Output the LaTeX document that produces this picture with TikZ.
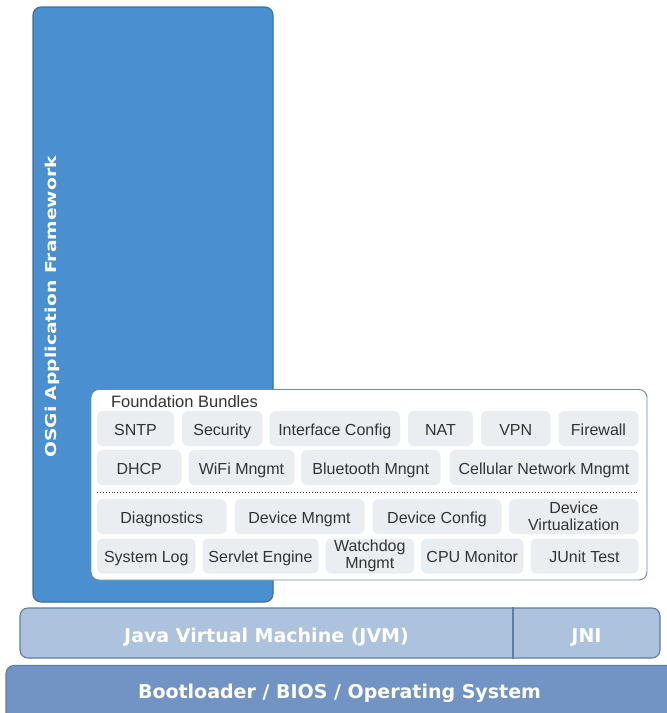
\documentclass[tikz,border=0pt]{standalone}
\usepackage{fontspec}
\usepackage{graphicx}
\setmainfont{Liberation Sans}
\newfontfamily\verdana{DejaVu Sans}

\definecolor{osgiblue}{HTML}{4A8FD0}
\definecolor{osgiedge}{HTML}{3D6F9F}
\definecolor{jvmfill}{HTML}{ADC2DC}
\definecolor{jvmedge}{HTML}{5F7D9E}
\definecolor{bootfill}{HTML}{7294C4}
\definecolor{bootedge}{HTML}{5B7CAB}
\definecolor{fbedge}{HTML}{6F8AA6}
\definecolor{bundlegray}{HTML}{EBEEF1}
\definecolor{labelgray}{HTML}{333333}

\tikzset{
  bundletwo/.style={fill=bundlegray, rounded corners=6pt, minimum height=35pt,
    inner sep=0pt, align=center, text=labelgray,
    font=\fontsize{16}{16.5}\selectfont},
  bundle/.style={bundletwo, text height=13pt, text depth=0pt},
  layerbox/.style={draw, line width=1.1pt, rounded corners=8pt, inner sep=0pt},
  layertext/.style={text=white, anchor=base,
    font=\verdana\bfseries\fontsize{19}{21}\selectfont}
}

\begin{document}
\begin{tikzpicture}[x=1pt, y=-1pt]
\useasboundingbox (0,0) rectangle (667,713);

\node[layerbox, fill=osgiblue, draw=osgiedge, minimum width=240pt, minimum height=595pt] (osgi) at (153,304.5) {};
\node[rotate=90, anchor=base, text=white] (osgititle) at (56.5,307)
  {\scalebox{1.25}[1]{\verdana\bfseries\fontsize{15}{16}\selectfont OSGi Application Framework}};

\node[layerbox, fill=white, draw=fbedge, line width=0.9pt, minimum width=556pt, minimum height=190.5pt] (found) at (369,484.75) {};
\node[anchor=base west, text=labelgray, font=\fontsize{16.5}{18}\selectfont] (foundtitle) at (107.5,407.3) {Foundation Bundles};

\node[bundle, minimum width=77pt] (sntp) at (135.5,428.5) {SNTP};
\node[bundle, minimum width=80.5pt] (security) at (222.25,428.5) {Security};
\node[bundle, minimum width=130.5pt] (ifconfig) at (334.75,428.5) {Interface Config};
\node[bundle, minimum width=65pt] (nat) at (440.5,428.5) {NAT};
\node[bundle, minimum width=69.5pt] (vpn) at (515.75,428.5) {VPN};
\node[bundle, minimum width=80pt] (firewall) at (598.5,428.5) {Firewall};

\node[bundle, minimum width=84.5pt] (dhcp) at (139.25,467.5) {DHCP};
\node[bundle, minimum width=106pt] (wifi) at (241.5,467.5) {WiFi Mngmt};
\node[bundle, minimum width=139.5pt] (bluetooth) at (370.75,467.5) {Bluetooth Mngnt};
\node[bundle, minimum width=189pt] (cellular) at (544,467.5) {Cellular Network Mngmt};

\draw[labelgray, line width=0.9pt, dotted] (97,492.3) -- (639,492.3);

\node[bundle, minimum width=129.5pt] (diag) at (161.75,516.5) {Diagnostics};
\node[bundle, minimum width=130pt] (devmgmt) at (299.5,516.5) {Device Mngmt};
\node[bundle, minimum width=129pt] (devconfig) at (437,516.5) {Device Config};
\node[bundletwo, minimum width=129.5pt] (devvirt) at (573.75,516.5) {Device\\Virtualization};

\node[bundle, minimum width=98.5pt] (syslog) at (146.25,556) {System Log};
\node[bundle, minimum width=116pt] (servlet) at (260.5,556) {Servlet Engine};
\node[bundletwo, minimum width=88.5pt] (watchdog) at (369.75,556) {Watchdog\\Mngmt};
\node[bundle, minimum width=102.5pt] (cpumon) at (472.25,556) {CPU Monitor};
\node[bundle, minimum width=108pt] (junit) at (584.5,556) {JUnit Test};

\node[layerbox, fill=jvmfill, draw=jvmedge, minimum width=640pt, minimum height=50pt] (jvm) at (340,633) {};
\draw[jvmedge, line width=1.1pt] (jvm.north -| 513,0) -- (jvm.south -| 513,0);
\node[layertext] (jvmtext) at (266.5,642.5) {Java Virtual Machine (JVM)};
\node[layertext] (jnitext) at (586.5,642.5) {JNI};

\node[layerbox, fill=bootfill, draw=bootedge, minimum width=669pt, minimum height=60pt] (boot) at (340.5,695.5) {};
\node[layertext] (boottext) at (339.5,698.3) {Bootloader / BIOS / Operating System};
\end{tikzpicture}
\end{document}
